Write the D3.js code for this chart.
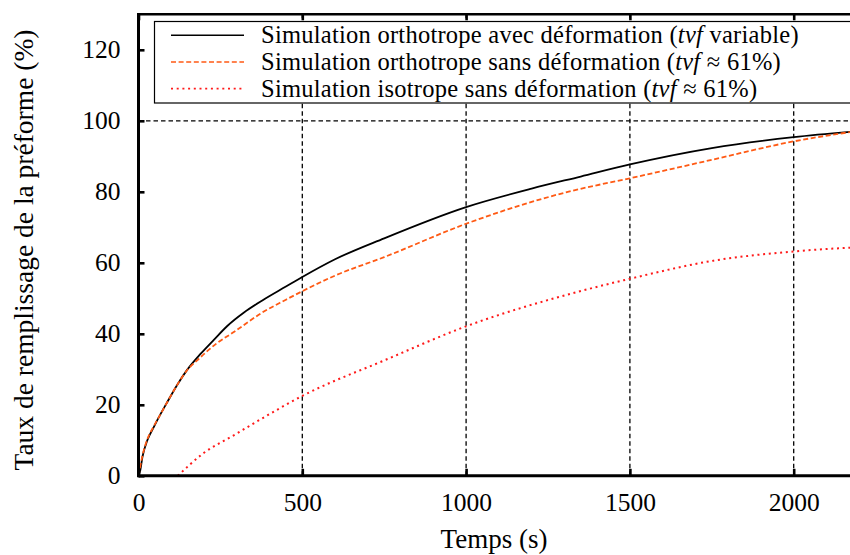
<!DOCTYPE html>
<html>
<head>
<meta charset="utf-8">
<script src="https://cdn.jsdelivr.net/npm/d3@7"></script>
<style>
  body { margin: 0; background: #fff; }
  svg { display: block; font-family: "Liberation Serif", "DejaVu Serif", serif; }
  svg text { font-family: "Liberation Serif", "DejaVu Serif", serif; }
</style>
</head>
<body>
<script>
// Taux de remplissage vs temps - trois simulations

// --- data ---
var timeAvec = [0, 5, 12, 27, 47, 68, 88, 118, 149, 190, 230, 271, 322, 378, 450, 500, 600, 750, 1000, 1200, 1350, 1500, 1750, 2000, 2200];
var fillAvec = [0, 1.4, 5.3, 10, 13.8, 17.5, 20.8, 25.6, 29.9, 34.4, 38.3, 42.2, 46.0, 49.4, 53.3, 56.0, 61.0, 66.9, 75.7, 80.9, 84.3, 87.7, 92.3, 95.4, 97.1];

var timeSans = [0, 5, 13, 27, 47, 68, 88, 118, 149, 180, 240, 291, 378, 450, 500, 600, 750, 1000, 1320, 1500, 1750, 2000, 2200];
var fillSans = [0, 2.5, 6, 10.3, 14, 17.5, 20.8, 25.6, 29.8, 32.6, 37.4, 40.5, 46.0, 49.6, 52.0, 56.4, 61.6, 71.0, 80.2, 83.8, 89.0, 94.2, 97.2];

var timeIso = [120, 196, 298, 378, 500, 750, 1000, 1340, 1500, 1755, 2000, 2200];
var fillIso = [0, 6.2, 11.8, 16.2, 22.5, 32.5, 42.1, 51.8, 55.5, 60.6, 63.2, 64.4];

var xTicks = [0, 500, 1000, 1500, 2000];
var yTicks = [0, 20, 40, 60, 80, 100, 120];
var xGrid = [500, 1000, 1500, 2000];
var yGrid = [100];

var seriesNames = ["avec", "sans", "iso"];
var legendPrefix = ["Simulation orthotrope avec déformation (", "Simulation orthotrope sans déformation (", "Simulation isotrope sans déformation ("];
var legendSuffix = [" variable)", " ≈ 61%)", " ≈ 61%)"];

// --- sizes ---
var outWidth = 850, outHeight = 555;
var x0 = 138.5, y0 = 475.8;
var serif = "'Liberation Serif', 'DejaVu Serif', serif";

var xScale = d3.scaleLinear().domain([0, 2200]).range([x0, x0 + 0.3276 * 2200]);
var yScale = d3.scaleLinear().domain([0, 130]).range([y0, y0 - 3.55 * 130]);

var styles = {
  avec: { color: "#000000", dash: null, width: 1.8 },
  sans: { color: "#ff5a14", dash: "5,2.6", width: 1.8 },
  iso:  { color: "#ff1a1a", dash: "2,3.7", width: 2 }
};

var svg = d3.select("body").append("svg")
  .attr("width", outWidth)
  .attr("height", outHeight);

// grid
svg.selectAll(".vgrid").data(xGrid).enter().append("line")
  .attr("x1", function(d) { return xScale(d); })
  .attr("x2", function(d) { return xScale(d); })
  .attr("y1", yScale(0)).attr("y2", yScale(130))
  .attr("stroke", "#000").attr("stroke-width", 1.3).attr("stroke-dasharray", "4.5,3");
svg.selectAll(".hgrid").data(yGrid).enter().append("line")
  .attr("x1", x0).attr("x2", outWidth)
  .attr("y1", function(d) { return yScale(d); })
  .attr("y2", function(d) { return yScale(d); })
  .attr("stroke", "#000").attr("stroke-width", 1.3).attr("stroke-dasharray", "4.5,3");

// curves
var line = d3.line()
  .x(function(d) { return xScale(d[0]); })
  .y(function(d) { return yScale(d[1]); })
  .curve(d3.curveMonotoneX);

var seriesData = {
  avec: d3.zip(timeAvec, fillAvec),
  sans: d3.zip(timeSans, fillSans),
  iso: d3.zip(timeIso, fillIso)
};

["iso", "avec", "sans"].forEach(function(k) {
  svg.append("path")
    .datum(seriesData[k])
    .attr("d", line)
    .attr("fill", "none")
    .attr("stroke", styles[k].color)
    .attr("stroke-width", styles[k].width)
    .attr("stroke-dasharray", styles[k].dash);
});

// legend
var legend = svg.append("g");
legend.append("rect")
  .attr("x", 154.5).attr("y", 21.5)
  .attr("width", 720).attr("height", 81.5)
  .attr("fill", "#fff").attr("stroke", "#000").attr("stroke-width", 1.2);

var rows = legend.selectAll(".row").data(seriesNames).enter().append("g")
  .attr("transform", function(d, i) { return "translate(0," + (35.3 + i * 26.7) + ")"; });

rows.append("line")
  .attr("x1", 171).attr("x2", 244).attr("y1", 0).attr("y2", 0)
  .attr("stroke", function(d) { return styles[d].color; })
  .attr("stroke-width", function(d) { return styles[d].width - 0.3; })
  .attr("stroke-dasharray", function(d) { return styles[d].dash; });

var lt = rows.append("text")
  .attr("x", 261).attr("y", 7.8)
  .style("font-family", serif)
  .style("font-size", "24.5px")
  .style("letter-spacing", "0.25px")
  .attr("fill", "#000");
lt.append("tspan").text(function(d, i) { return legendPrefix[i]; });
lt.append("tspan").style("font-style", "italic").text("tvf");
lt.append("tspan").text(function(d, i) { return legendSuffix[i]; });

// axes
var yAxis = d3.axisLeft(yScale).tickValues(yTicks).tickSizeInner(-6).tickSizeOuter(0).tickPadding(18).tickFormat(d3.format("d"));
var xAxis = d3.axisBottom(xScale).tickValues(xTicks).tickSizeInner(-7).tickSizeOuter(0).tickPadding(17).tickFormat(d3.format("d"));
var xTop = d3.axisTop(xScale).tickValues(xTicks).tickSizeInner(-6).tickSizeOuter(0).tickFormat("");

var gy = svg.append("g").attr("transform", "translate(" + x0 + ",0)").call(yAxis);
var gx = svg.append("g").attr("transform", "translate(0," + y0 + ")").call(xAxis);
var gt = svg.append("g").attr("transform", "translate(0," + yScale(130) + ")").call(xTop);

[gy, gx, gt].forEach(function(g) {
  g.attr("font-family", serif).attr("font-size", null);
  g.select(".domain").attr("stroke-width", 3).attr("stroke", "#000");
  g.selectAll(".tick line").attr("stroke-width", 2.6).attr("stroke", "#000");
  g.selectAll(".tick text")
    .style("font-family", serif)
    .style("font-size", "25.5px")
    .attr("fill", "#000");
});
gt.select(".domain").attr("stroke-width", 2.5);
// axis lines run to the edge of the picture
gt.select(".domain").attr("d", "M" + x0 + ",0H" + outWidth);
gx.select(".domain").attr("d", "M" + x0 + ",0H" + outWidth);
gy.select(".domain").attr("d", "M0," + (yScale(130) - 1.2) + "V" + (y0 + 1.5));

// axis titles
svg.append("text")
  .attr("x", 494).attr("y", 548)
  .attr("text-anchor", "middle")
  .style("font-family", serif)
  .style("font-size", "27px")
  .text("Temps (s)");

svg.append("text")
  .attr("transform", "translate(33,250) rotate(-90)")
  .attr("text-anchor", "middle")
  .style("font-family", serif)
  .style("font-size", "27.5px")
  .text("Taux de remplissage de la préforme (%)");
</script>
</body>
</html>
